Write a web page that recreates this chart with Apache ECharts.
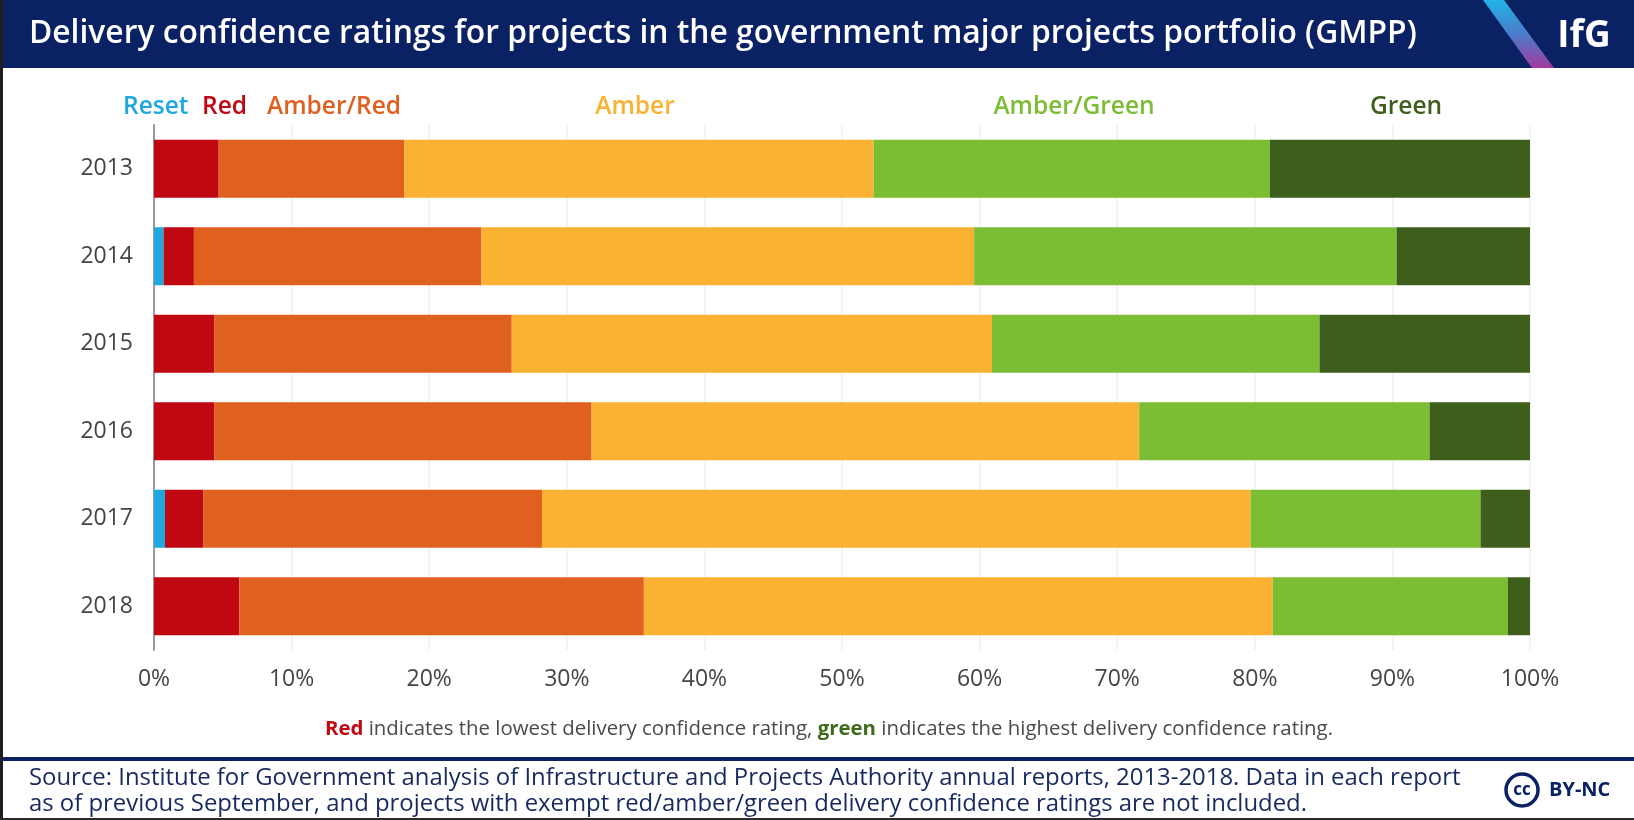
<!DOCTYPE html>
<html>
<head>
<meta charset="utf-8">
<script src="https://cdn.jsdelivr.net/npm/echarts@6/dist/echarts.min.js"></script>
<style>
html,body{margin:0;padding:0;background:#fff;}
#chart{width:1634px;height:820px;}
</style>
</head>
<body>
<div id="chart"></div>
<script>
const categories = ['2013', '2014', '2015', '2016', '2017', '2018'];
const seriesNames = ['Reset', 'Red', 'Amber/Red', 'Amber', 'Amber/Green', 'Green'];
const reset      = [0,    0.7,  0,    0,    0.8,  0];
const red        = [4.7,  2.2,  4.4,  4.4,  2.8,  6.2];
const amberRed   = [13.5, 20.9, 21.6, 27.4, 24.6, 29.4];
const amber      = [34.1, 35.8, 34.9, 39.8, 51.5, 45.7];
const amberGreen = [28.8, 30.7, 23.8, 21.1, 16.7, 17.1];
const green      = [18.9, 9.7,  15.3, 7.3,  3.6,  1.6];
const xTicks = [0, 10, 20, 30, 40, 50, 60, 70, 80, 90, 100];

const colors = ['#1fa8e0', '#c00812', '#e0601f', '#fbb131', '#7bbd33', '#3e5f1b'];
const NAVY = '#0a2263';
const FONT = '"Open Sans", "Noto Sans", sans-serif';
const values = [reset, red, amberRed, amber, amberGreen, green];

const chart = echarts.init(document.getElementById('chart'), null, {renderer: 'canvas'});

const series = seriesNames.map((n, i) => ({
  name: n,
  type: 'bar',
  stack: 'total',
  barWidth: 58,
  data: values[i],
  itemStyle: {color: colors[i]},
  emphasis: {disabled: true}
}));

const legendLabels = [
  {text: 'Reset', x: 123, align: 'left', c: colors[0]},
  {text: 'Red', x: 202, align: 'left', c: colors[1]},
  {text: 'Amber/Red', x: 267, align: 'left', c: colors[2]},
  {text: 'Amber', x: 635, align: 'center', c: colors[3]},
  {text: 'Amber/Green', x: 1074, align: 'center', c: colors[4]},
  {text: 'Green', x: 1406, align: 'center', c: colors[5]}
];

const graphics = [
  {type: 'rect', shape: {x: 0, y: 0, width: 1634, height: 68}, style: {fill: NAVY}, z: 1},
  {type: 'text', x: 29, y: 34, z: 2, style: {text: 'Delivery confidence ratings for projects in the government major projects portfolio (GMPP)', fill: '#ffffff', font: '600 31.8px ' + FONT, textVerticalAlign: 'middle'}},
  {type: 'polygon', z: 2, shape: {points: [[1483, 0], [1504, 0], [1554, 68], [1532, 68]]},
    style: {fill: new echarts.graphic.LinearGradient(0, 0, 0, 1, [{offset: 0, color: '#22b4e6'}, {offset: 0.5, color: '#4a7ccb'}, {offset: 1, color: '#a23a9d'}])}},
  {type: 'text', x: 1584, y: 36, z: 3, style: {text: 'IfG', fill: '#ffffff', font: 'bold 37px ' + FONT, textAlign: 'center', textVerticalAlign: 'middle'}},
  {type: 'text', x: 829, y: 729, z: 2, style: {
    text: '{r|Red} indicates the lowest delivery confidence rating, {g|green} indicates the highest delivery confidence rating.',
    textAlign: 'center', textVerticalAlign: 'middle', font: '20.4px ' + FONT, fill: '#4a4a4a',
    rich: {r: {fill: '#c00812', font: 'bold 20.4px ' + FONT}, g: {fill: '#3e6a1b', font: 'bold 20.4px ' + FONT}}
  }},
  {type: 'rect', shape: {x: 0, y: 757, width: 1634, height: 4}, style: {fill: NAVY}, z: 2},
  {type: 'text', x: 29, y: 778, z: 2, style: {text: 'Source: Institute for Government analysis of Infrastructure and Projects Authority annual reports, 2013-2018. Data in each report', fill: '#17295f', font: '23.9px ' + FONT, textVerticalAlign: 'middle'}},
  {type: 'text', x: 29, y: 804, z: 2, style: {text: 'as of previous September, and projects with exempt red/amber/green delivery confidence ratings are not included.', fill: '#17295f', font: '23.9px ' + FONT, textVerticalAlign: 'middle'}},
  {type: 'circle', shape: {cx: 1522, cy: 790, r: 16}, style: {fill: '#fff', stroke: NAVY, lineWidth: 3.5}, z: 2},
  {type: 'text', x: 1522, y: 790, z: 3, style: {text: 'cc', fill: NAVY, font: 'bold 17px ' + FONT, textAlign: 'center', textVerticalAlign: 'middle'}},
  {type: 'text', x: 1549, y: 790, z: 3, style: {text: 'BY-NC', fill: NAVY, font: 'bold 20px ' + FONT, textVerticalAlign: 'middle'}},
  {type: 'rect', shape: {x: 0, y: 0, width: 3, height: 820}, style: {fill: '#1e1e1e'}, z: 5},
  {type: 'rect', shape: {x: 0, y: 818, width: 1634, height: 2}, style: {fill: '#2a2a2a'}, z: 5}
];
legendLabels.forEach(l => graphics.push({
  type: 'text', x: l.x, y: 107, z: 2,
  style: {text: l.text, fill: l.c, font: '600 24.5px ' + FONT, textAlign: l.align, textVerticalAlign: 'middle'}
}));

chart.setOption({
  animation: false,
  backgroundColor: '#ffffff',
  textStyle: {fontFamily: FONT},
  grid: {left: 154, right: 104, top: 125, bottom: 170, containLabel: false},
  xAxis: {
    type: 'value', min: xTicks[0], max: xTicks[xTicks.length - 1], interval: xTicks[1] - xTicks[0],
    axisLine: {show: false}, axisTick: {show: false},
    axisLabel: {formatter: '{value}%', color: '#444444', fontSize: 23, margin: 18, fontFamily: FONT},
    splitLine: {show: true, lineStyle: {color: '#efefef', width: 1.5}}
  },
  yAxis: {
    type: 'category', data: categories, inverse: true,
    axisLine: {show: true, lineStyle: {color: '#9a9a9a', width: 2}},
    axisTick: {show: false},
    axisLabel: {color: '#444444', fontSize: 23, margin: 21, fontFamily: FONT}
  },
  series: series,
  graphic: graphics
});
</script>
</body>
</html>
